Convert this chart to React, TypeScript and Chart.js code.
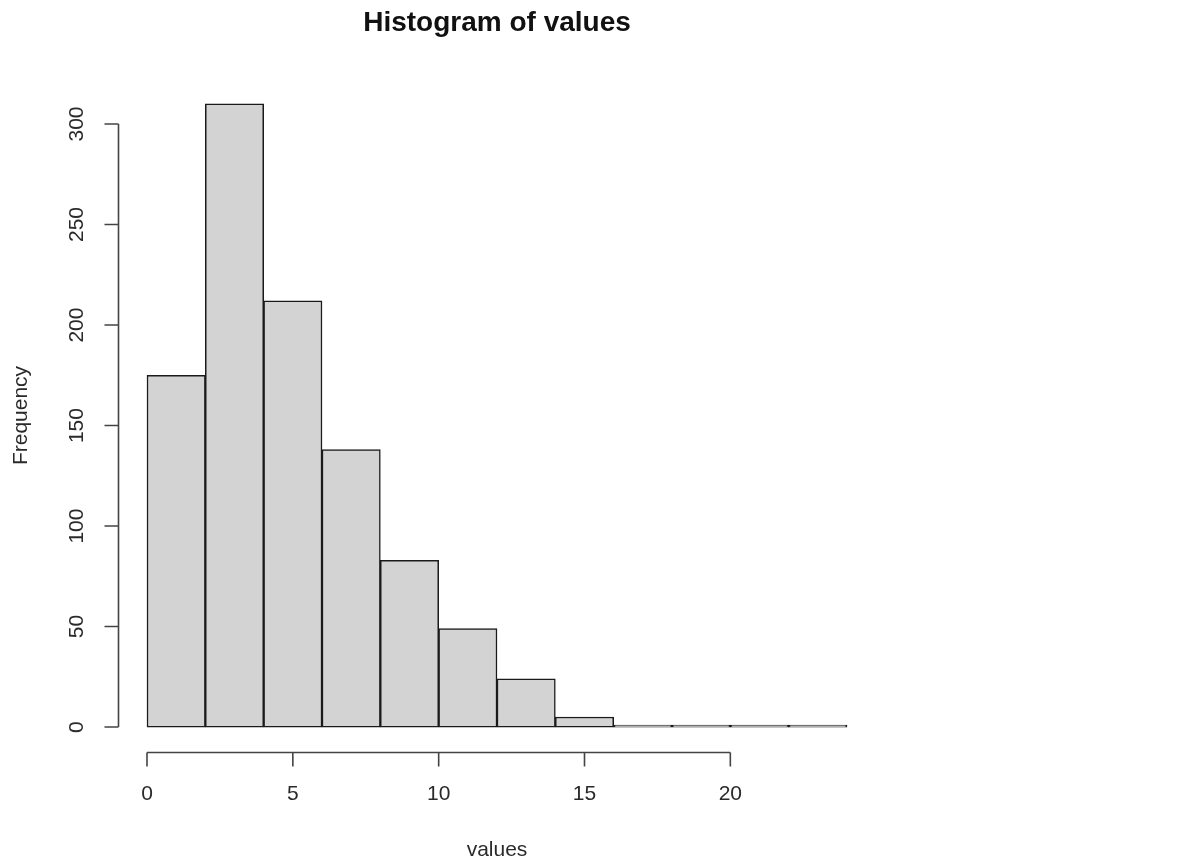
import React, { useEffect, useRef } from "react";
import { Chart, registerables } from "chart.js";

Chart.register(...registerables);

const binStarts = [0, 2, 4, 6, 8, 10, 12, 14, 16, 18, 20, 22];
const binWidth = 2;
const frequencies = [175, 310, 212, 138, 83, 49, 24, 5, 1, 1, 1, 1];
const xTicks = [0, 5, 10, 15, 20];
const yTicks = [0, 50, 100, 150, 200, 250, 300];
const titleText = "Histogram of values";
const xLabel = "values";
const yLabel = "Frequency";

const FONT = "'Liberation Sans', Arial, Helvetica, sans-serif";

const rAxesPlugin = {
  id: "rAxes",
  afterDraw(chart: any) {
    const ctx = chart.ctx;
    const xs = chart.scales.x;
    const ys = chart.scales.y;
    const area = chart.chartArea;
    ctx.save();
    ctx.strokeStyle = "#444";
    ctx.lineWidth = 1.6;
    ctx.fillStyle = "#2a2a2a";
    // x axis
    const axY = area.bottom + 0.5;
    const x0 = xs.getPixelForValue(xTicks[0]);
    const x1 = xs.getPixelForValue(xTicks[xTicks.length - 1]);
    ctx.beginPath();
    ctx.moveTo(x0, axY);
    ctx.lineTo(x1, axY);
    xTicks.forEach((t) => {
      const px = xs.getPixelForValue(t);
      ctx.moveTo(px, axY);
      ctx.lineTo(px, axY + 14);
    });
    ctx.stroke();
    ctx.font = `21px ${FONT}`;
    ctx.textAlign = "center";
    ctx.textBaseline = "middle";
    xTicks.forEach((t) => {
      ctx.fillText(String(t), xs.getPixelForValue(t), axY + 42);
    });
    // y axis
    const axX = area.left - 0.5;
    const y0 = ys.getPixelForValue(yTicks[0]);
    const y1 = ys.getPixelForValue(yTicks[yTicks.length - 1]);
    ctx.beginPath();
    ctx.moveTo(axX, y0);
    ctx.lineTo(axX, y1);
    yTicks.forEach((t) => {
      const py = ys.getPixelForValue(t);
      ctx.moveTo(axX, py);
      ctx.lineTo(axX - 14, py);
    });
    ctx.stroke();
    yTicks.forEach((t) => {
      const py = ys.getPixelForValue(t);
      ctx.save();
      ctx.translate(axX - 41, py);
      ctx.rotate(-Math.PI / 2);
      ctx.fillText(String(t), 0, 0);
      ctx.restore();
    });
    // axis titles
    const cx = (area.left + area.right) / 2;
    ctx.fillText(xLabel, cx, area.bottom + 98);
    ctx.save();
    ctx.translate(21, (area.top + area.bottom) / 2);
    ctx.rotate(-Math.PI / 2);
    ctx.fillText(yLabel, 0, 0);
    ctx.restore();
    // main title
    ctx.fillStyle = "#111";
    ctx.font = `bold 28px ${FONT}`;
    ctx.fillText(titleText, cx, 23);
    ctx.restore();
  },
};

export default function App() {
  const ref = useRef<HTMLCanvasElement>(null);
  useEffect(() => {
    document.body.style.margin = "0";
    document.body.style.background = "#fff";
    const data = binStarts.map((s, i) => ({ x: s + binWidth / 2, y: frequencies[i] }));
    const xMin = binStarts[0];
    const xMax = binStarts[binStarts.length - 1] + binWidth;
    const xPad = (xMax - xMin) * 0.04;
    const yMax = Math.max(...frequencies);
    const yPad = yMax * 0.04;
    const chart = new Chart(ref.current!, {
      type: "bar",
      data: {
        datasets: [
          {
            data,
            backgroundColor: "#D3D3D3",
            borderColor: "#1a1a1a",
            borderWidth: 1.5,
            borderSkipped: false,
            barPercentage: 1,
            categoryPercentage: 1,
            grouped: false,
          } as any,
        ],
      },
      options: {
        responsive: false,
        animation: false,
        layout: { padding: { left: 119, right: 315, top: 79, bottom: 109 } },
        plugins: { legend: { display: false }, tooltip: { enabled: false }, title: { display: false } },
        scales: {
          x: { type: "linear", min: xMin - xPad, max: xMax + xPad, display: false, offset: false },
          y: { type: "linear", min: -yPad, max: yMax + yPad, display: false },
        },
      },
      plugins: [rAxesPlugin],
    });
    return () => chart.destroy();
  }, []);
  return (
    <div style={{ position: "absolute", left: 0, top: 0, width: 1190, height: 861, background: "#fff" }}>
      <canvas ref={ref} width={1190} height={861} />
    </div>
  );
}
